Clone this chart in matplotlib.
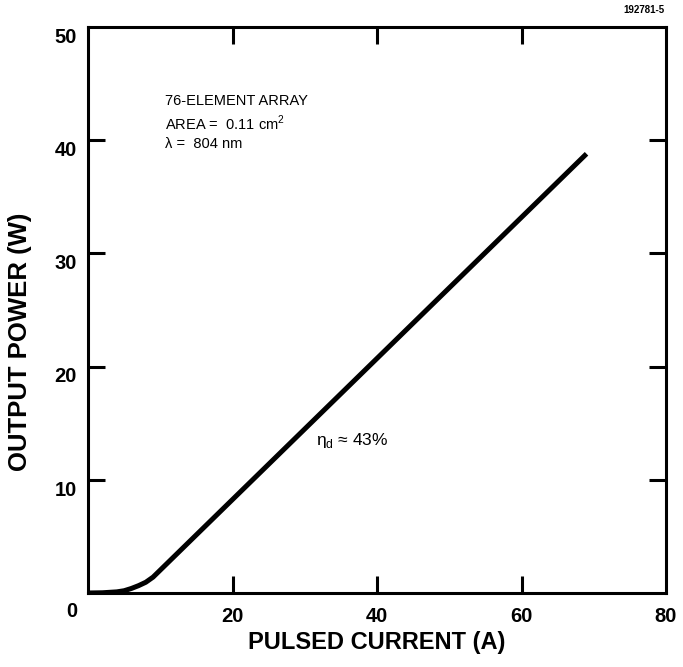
import matplotlib
matplotlib.use("Agg")
import matplotlib.pyplot as plt
import matplotlib.transforms as mtransforms
import numpy as np

plt.rcParams['font.family'] = ['Liberation Sans', 'DejaVu Sans']
plt.rcParams['mathtext.fontset'] = 'custom'
plt.rcParams['mathtext.rm'] = 'Liberation Sans'

# Data
current = [0, 2, 4, 5, 6, 7, 8, 9, 69]
power = [0, 0.02, 0.1, 0.2, 0.4, 0.65, 0.95, 1.4, 38.8]

x_ticks = [0, 20, 40, 60, 80]
x_ticklabels = ["", "20", "40", "60", "80"]
y_ticks = [0, 10, 20, 30, 40, 50]
y_ticklabels = ["0", "10", "20", "30", "40", "50"]

fig = plt.figure(figsize=(6.83, 6.67), dpi=100)
ax = fig.add_axes([88/683, (667-593)/667, (666-88)/683, (593-27)/667])

ax.plot(current, power, color='black', lw=3.6, solid_capstyle='butt', solid_joinstyle='round')

ax.set_xlim(0, 80)
ax.set_ylim(0, 50)
ax.set_xticks(x_ticks)
ax.set_xticklabels(x_ticklabels)
ax.set_yticks(y_ticks)
ax.set_yticklabels(y_ticklabels)

for s in ax.spines.values():
    s.set_linewidth(2.2)

ax.tick_params(axis='both', which='both', direction='in', length=12, width=2.2,
               top=True, right=True, labelsize=14.5)
ax.tick_params(axis='x', pad=10)
ax.tick_params(axis='y', pad=8)
for lab in ax.get_xticklabels() + ax.get_yticklabels():
    lab.set_fontweight('bold')

# hide ticks at corners
for t in ax.xaxis.get_major_ticks():
    if t.get_loc() in (0, 80):
        t.tick1line.set_visible(False)
        t.tick2line.set_visible(False)
for t in ax.yaxis.get_major_ticks():
    if t.get_loc() in (0, 50):
        t.tick1line.set_visible(False)
        t.tick2line.set_visible(False)

# shift y tick labels slightly down as in the reference
for lab in ax.get_yticklabels():
    txt = lab.get_text()
    dy = -12/72 if txt == "0" else -6/72
    lab.set_transform(lab.get_transform() + mtransforms.ScaledTranslation(0, dy, fig.dpi_scale_trans))

ax.set_xlabel("PULSED CURRENT (A)", fontsize=17, fontweight='bold', labelpad=4)
ax.set_ylabel("OUTPUT POWER (W)", fontsize=18.5, fontweight='bold')
ax.yaxis.set_label_coords(-0.097, 0.443)

ax.text(10.7, 44.1, "76-ELEMENT ARRAY\nAREA =  0.11 cm$^{\\rm 2}$\nλ =  804 nm",
        fontsize=10.5, va='top', ha='left', linespacing=1.37)
ax.text(31.6, 13.5, "η$_{\\rm d}$ ≈ 43%", fontsize=12.5, va='center', ha='left')

fig.text(665/683, 1 - 10/667, "192781-5", fontsize=7, fontweight='bold', ha='right', va='center')

fig.savefig("out.png", dpi=100)
